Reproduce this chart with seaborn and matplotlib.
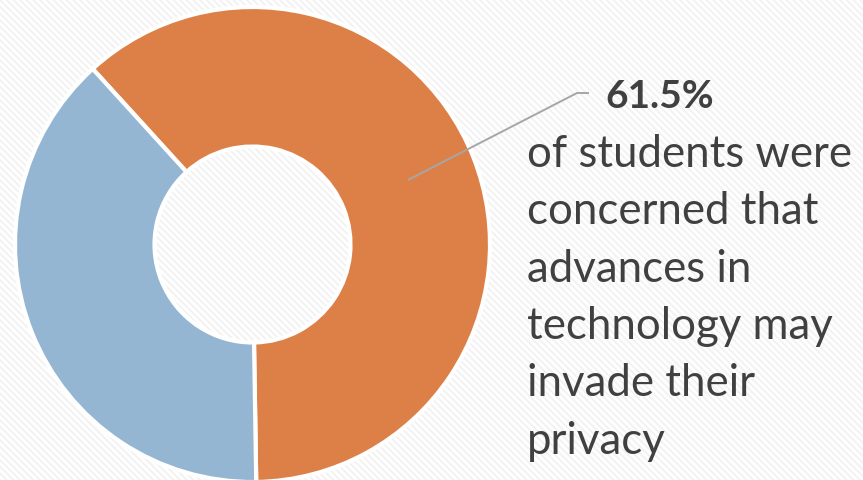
import matplotlib
matplotlib.use("Agg")
import matplotlib.pyplot as plt
import seaborn as sns
from matplotlib.patches import Rectangle

# Survey share: concerned vs. not concerned about privacy
labels = ["Concerned", "Not concerned"]
shares = [61.5, 38.5]
colors = ["#DD8047", "#94B6D2"]

headline = "61.5%"
caption_lines = [
    "of students were",
    "concerned that",
    "advances in",
    "technology may",
    "invade their",
    "privacy",
]

sns.set_theme(style="white")
plt.rcParams["font.family"] = ["Lato", "DejaVu Sans"]
plt.rcParams["hatch.linewidth"] = 1.4
plt.rcParams["hatch.color"] = "#f2f2f2"

W, H = 863, 480
fig = plt.figure(figsize=(W / 100, H / 100), dpi=100)
fig.patch.set_facecolor("white")

# faint diagonal pinstripe backdrop
bg = Rectangle((0, 0), 1, 1, transform=fig.transFigure, facecolor="white",
               edgecolor="#f2f2f2", hatch="\\\\\\\\\\", linewidth=0, zorder=-10)
fig.patches.append(bg)

ax = fig.add_axes([0, 0, 1, 1])
ax.patch.set_alpha(0)

cx, cy, r = 252.5, H - 244.5, 237.5
hole = 98.0
ax.pie(shares, colors=colors, startangle=132.3, counterclock=False,
       center=(cx, cy), radius=r,
       wedgeprops=dict(width=r - hole, edgecolor="white", linewidth=3),
       frame=False)
ax.set_xlim(0, W)
ax.set_ylim(0, H)
ax.set_aspect("equal")
ax.set_axis_off()

# leader line from the orange segment to the caption
ax.plot([408, 577, 589], [H - 180, H - 93, H - 93], color="#a6a6a6",
        lw=1.4, solid_capstyle="butt", zorder=5)

text_color = "#404040"
ax.text(660, H - 108, headline, ha="center", va="baseline",
        fontsize=28, fontweight="bold", color=text_color)
for i, line in enumerate(caption_lines):
    ax.text(527, H - (167 + 57.3 * i), line, ha="left", va="baseline",
            fontsize=31.5, color=text_color)

fig.savefig("out.png", dpi=100)
